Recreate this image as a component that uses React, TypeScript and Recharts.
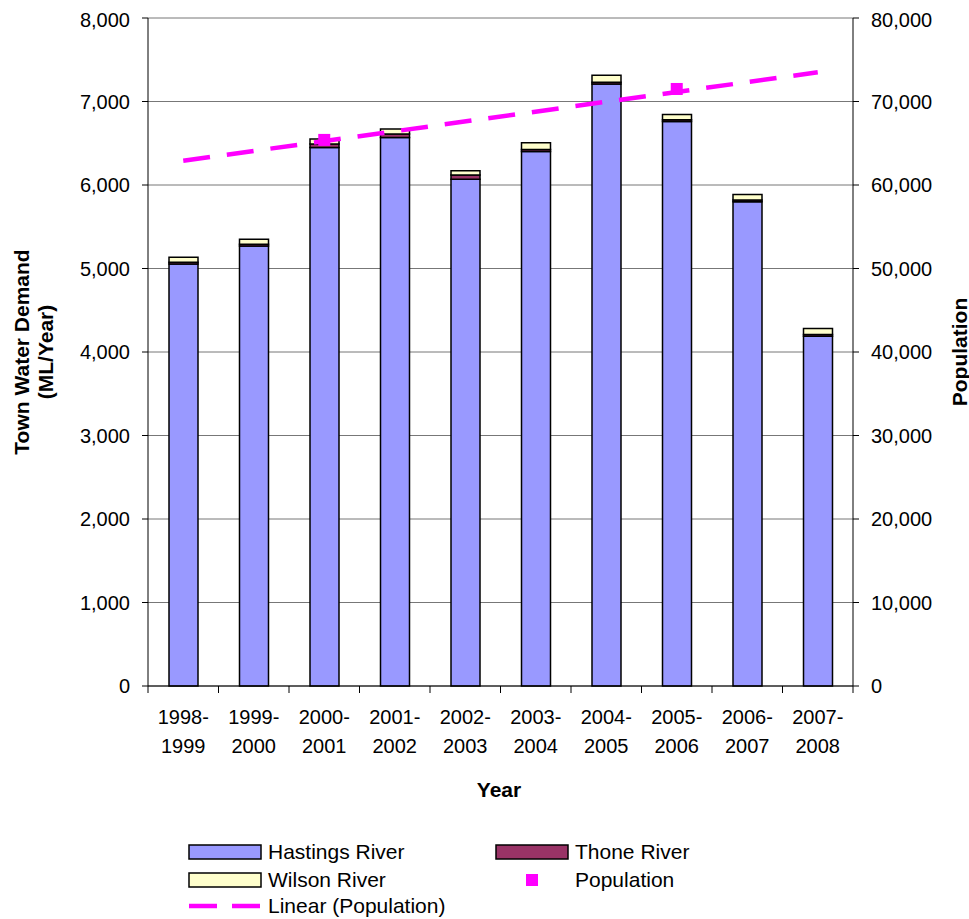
import {
  ComposedChart,
  Bar,
  Line,
  XAxis,
  YAxis,
  CartesianGrid,
} from "recharts";

const years = [
  "1998-1999",
  "1999-2000",
  "2000-2001",
  "2001-2002",
  "2002-2003",
  "2003-2004",
  "2004-2005",
  "2005-2006",
  "2006-2007",
  "2007-2008",
];

// town water demand by source, ML/year
const hastingsRiver = [5055, 5270, 6450, 6570, 6070, 6400, 7210, 6760, 5800, 4190];
const thoneRiver = [20, 20, 40, 40, 50, 25, 20, 20, 20, 20];
const wilsonRiver = [60, 60, 60, 60, 50, 80, 85, 65, 65, 70];

// census counts only exist for two of the years
const population = [null, null, 65400, null, null, null, null, 71500, null, null];
// end points of the linear trend fitted to population
const populationTrend = [62900, null, null, null, null, null, null, null, null, 73500];

const demandTicks = [0, 1000, 2000, 3000, 4000, 5000, 6000, 7000, 8000];
const populationTicks = [0, 10000, 20000, 30000, 40000, 50000, 60000, 70000, 80000];

const rows = years.map((year, i) => ({
  year,
  hastings: hastingsRiver[i],
  thone: thoneRiver[i],
  wilson: wilsonRiver[i],
  population: population[i],
  trend: populationTrend[i],
}));

const FONT = '"Liberation Sans", Arial, sans-serif';
const WIDTH = 961;
const HEIGHT = 800;
const LEFT_AXIS = 140;
const RIGHT_AXIS = 116;
const TOP = 10;
const X_AXIS_HEIGHT = 122;
const PLOT_WIDTH = WIDTH - LEFT_AXIS - RIGHT_AXIS;
const BAND = PLOT_WIDTH / years.length;
const TITLE_Y = TOP + (HEIGHT - TOP - X_AXIS_HEIGHT) / 2;

const fmt = (v: number) => v.toLocaleString("en-US");

function YearTick(props: any) {
  const { x, y, payload, index } = props;
  const [first, second] = String(payload.value).split("-");
  const left = x - BAND / 2;
  return (
    <g>
      <line x1={left} y1={y} x2={left} y2={y + 7} stroke="#000" strokeWidth={1} />
      {index === years.length - 1 && (
        <line x1={left + BAND} y1={y} x2={left + BAND} y2={y + 7} stroke="#000" strokeWidth={1} />
      )}
      <text x={x} y={y + 38} textAnchor="middle" fontSize={20} fontFamily={FONT} fill="#000">
        {first}-
      </text>
      <text x={x} y={y + 67} textAnchor="middle" fontSize={20} fontFamily={FONT} fill="#000">
        {second}
      </text>
    </g>
  );
}

function PopulationDot(props: any) {
  const { cx, cy, value, index } = props;
  if (value == null || cy == null) return <g key={`p-${index}`} />;
  return <rect key={`p-${index}`} x={cx - 6} y={cy - 6} width={12} height={12} fill="#FF00FF" />;
}

function LeftTitle() {
  return (
    <g fontFamily={FONT} fontWeight="bold" fontSize={21} fill="#000">
      <text
        x={13}
        y={TITLE_Y}
        transform={`rotate(-90 13 ${TITLE_Y})`}
        textAnchor="middle"
        dominantBaseline="central"
      >
        Town Water Demand
      </text>
      <text
        x={37}
        y={TITLE_Y}
        transform={`rotate(-90 37 ${TITLE_Y})`}
        textAnchor="middle"
        dominantBaseline="central"
      >
        (ML/Year)
      </text>
    </g>
  );
}

function RightTitle() {
  return (
    <text
      x={951}
      y={TITLE_Y}
      transform={`rotate(-90 951 ${TITLE_Y})`}
      textAnchor="middle"
      dominantBaseline="central"
      fontFamily={FONT}
      fontWeight="bold"
      fontSize={21}
      fill="#000"
    >
      Population
    </text>
  );
}

function XTitle() {
  return (
    <text x={491} y={789} textAnchor="middle" fontFamily={FONT} fontWeight="bold" fontSize={21} fill="#000">
      Year
    </text>
  );
}

const legendItems = [
  { label: "Hastings River", kind: "box", color: "#9999FF", left: 180, top: 844 },
  { label: "Thone River", kind: "box", color: "#993366", left: 487, top: 844 },
  { label: "Wilson River", kind: "box", color: "#FFFFCC", left: 180, top: 872 },
  { label: "Population", kind: "square", color: "#FF00FF", left: 487, top: 872 },
  { label: "Linear (Population)", kind: "dash", color: "#FF00FF", left: 180, top: 898 },
];

function LegendIcon({ kind, color }: { kind: string; color: string }) {
  if (kind === "box") {
    return (
      <svg width={74} height={16}>
        <rect x={1} y={1} width={72} height={14} fill={color} stroke="#000" strokeWidth={1.5} />
      </svg>
    );
  }
  if (kind === "square") {
    return (
      <svg width={74} height={16}>
        <rect x={31} y={2} width={12} height={12} fill={color} />
      </svg>
    );
  }
  return (
    <svg width={74} height={16}>
      <line x1={1} y1={8} x2={73} y2={8} stroke={color} strokeWidth={4.5} strokeDasharray="28 15" />
    </svg>
  );
}

export default function App() {
  return (
    <div
      style={{
        width: 969,
        height: 919,
        paddingLeft: 8,
        paddingTop: 8,
        boxSizing: "border-box",
        overflow: "hidden",
        background: "#fff",
      }}
    >
      <style>{"body { margin: 0; }"}</style>
      <div style={{ position: "relative", width: WIDTH, height: 911, fontFamily: FONT }}>
        <ComposedChart
          width={WIDTH}
          height={HEIGHT}
          data={rows}
          margin={{ top: TOP, right: 0, bottom: 0, left: 0 }}
          barSize={29}
        >
          <CartesianGrid vertical={false} stroke="#777" strokeWidth={1} yAxisId="left" />
          <XAxis
            dataKey="year"
            height={X_AXIS_HEIGHT}
            axisLine={{ stroke: "#000", strokeWidth: 1 }}
            tickLine={false}
            tickSize={0}
            tickMargin={0}
            interval={0}
            tick={<YearTick />}
            label={<XTitle />}
          />
          <YAxis
            yAxisId="left"
            orientation="left"
            width={LEFT_AXIS}
            domain={[0, 8000]}
            ticks={demandTicks}
            tickFormatter={fmt}
            axisLine={{ stroke: "#000", strokeWidth: 1 }}
            tickLine={{ stroke: "#000", strokeWidth: 1 }}
            tickSize={6}
            tickMargin={12}
            tick={{ fontSize: 20, fontFamily: FONT, fill: "#000" }}
            label={<LeftTitle />}
          />
          <YAxis
            yAxisId="right"
            orientation="right"
            width={RIGHT_AXIS}
            domain={[0, 80000]}
            ticks={populationTicks}
            tickFormatter={fmt}
            axisLine={{ stroke: "#000", strokeWidth: 1 }}
            tickLine={{ stroke: "#000", strokeWidth: 1 }}
            tickSize={6}
            tickMargin={12}
            tick={{ fontSize: 20, fontFamily: FONT, fill: "#000", textAnchor: "start" }}
            label={<RightTitle />}
          />
          <Bar
            dataKey="hastings"
            stackId="demand"
            yAxisId="left"
            fill="#9999FF"
            stroke="#000"
            strokeWidth={1.5}
            isAnimationActive={false}
          />
          <Bar
            dataKey="thone"
            stackId="demand"
            yAxisId="left"
            fill="#993366"
            stroke="#000"
            strokeWidth={1.5}
            isAnimationActive={false}
          />
          <Bar
            dataKey="wilson"
            stackId="demand"
            yAxisId="left"
            fill="#FFFFCC"
            stroke="#000"
            strokeWidth={1.5}
            isAnimationActive={false}
          />
          <Line
            dataKey="trend"
            yAxisId="right"
            connectNulls
            stroke="#FF00FF"
            strokeWidth={4.5}
            strokeDasharray="27 17"
            dot={false}
            activeDot={false}
            isAnimationActive={false}
          />
          <Line
            dataKey="population"
            yAxisId="right"
            stroke="none"
            dot={<PopulationDot />}
            activeDot={false}
            isAnimationActive={false}
          />
        </ComposedChart>

        {legendItems.map((item) => (
          <div
            key={item.label}
            style={{
              position: "absolute",
              left: item.left,
              top: item.top - 12,
              height: 24,
              display: "flex",
              alignItems: "center",
              gap: 6,
              fontSize: 21,
              color: "#000",
              whiteSpace: "nowrap",
            }}
          >
            <LegendIcon kind={item.kind} color={item.color} />
            <span>{item.label}</span>
          </div>
        ))}
      </div>
    </div>
  );
}
